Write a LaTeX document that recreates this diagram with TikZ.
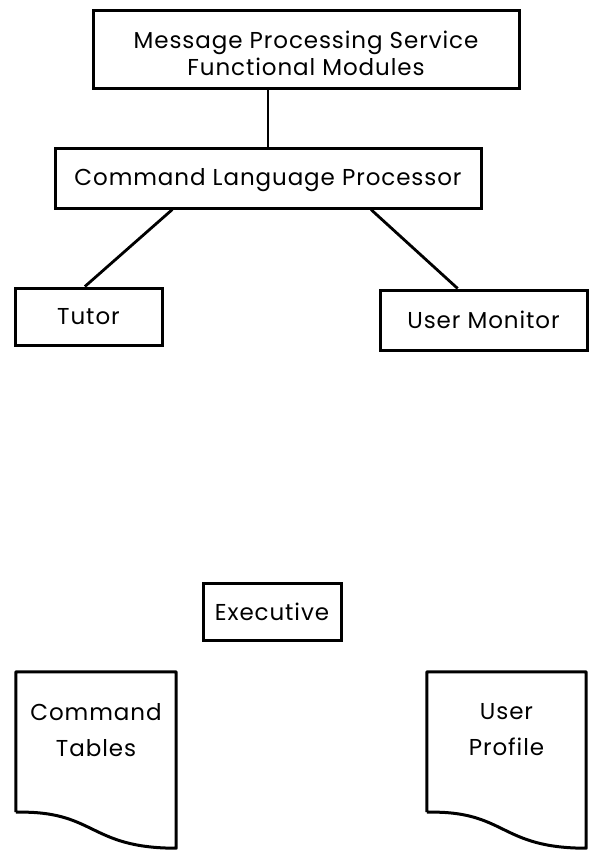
\documentclass[tikz,border=0pt]{standalone}
\usepackage{fontspec}
\setmainfont{Poppins}[LetterSpace=4]
\usetikzlibrary{calc}
\begin{document}
\begin{tikzpicture}[x=1pt,y=-1pt,
  box/.style={draw, line width=3pt, rectangle, inner sep=0pt, align=center,
    font=\fontsize{23}{27}\selectfont},
  doclabel/.style={rectangle, inner sep=0pt, align=center,
    font=\fontsize{23}{36}\selectfont},
  link/.style={line width=2.8pt}]
\useasboundingbox (0,0) rectangle (589,855);

% module boxes
\node[box, minimum width=426pt, minimum height=78pt] (mps) at (306,49)
  {\rule{0pt}{26pt}Message Processing Service\\Functional Modules};
\node[box, minimum width=426pt, minimum height=60pt] (clp) at (268,178)
  {\rule{0pt}{22pt}Command Language Processor};
\node[box, minimum width=147pt, minimum height=57pt] (tutor) at (88.5,316.5) {Tutor};
\node[box, minimum width=207pt, minimum height=60pt] (umon) at (483.5,320) {User Monitor};
\node[box, minimum width=138pt, minimum height=57pt] (exec) at (272,611.5) {Executive};

% connectors
\draw[link] (clp.north) -- (clp.north |- mps.south);
\draw[link] ($(clp.south west)!0.277!(clp.south east)$) -- ($(tutor.north west)!0.476!(tutor.north east)$);
\draw[link] ($(clp.south west)!0.74!(clp.south east)$) -- ($(umon.north west)!0.377!(umon.north east)$);

% document symbols (rectangle with a wavy lower edge)
\node[doclabel, minimum width=160pt, minimum height=176pt] (ctab) at (96,760) {};
\node[doclabel, minimum width=159pt, minimum height=176pt] (uprof) at (506.5,760) {};
\foreach \d in {ctab, uprof}{
  \draw[line width=3pt, line join=round]
    ($(\d.south west)+(0,-36)$) -- (\d.north west) -- (\d.north east) -- (\d.south east)
    .. controls ($(\d.south west)!0.45!(\d.south east)$) and
                ($(\d.south west)!0.5!(\d.south east)+(0,-38)$) ..
    ($(\d.south west)+(0,-36)$);
}
\node[doclabel] at ($(ctab.north)+(0,58)$) {Command\\Tables};
\node[doclabel] at ($(uprof.north)+(0,58)$) {User\\Profile};
\end{tikzpicture}
\end{document}
